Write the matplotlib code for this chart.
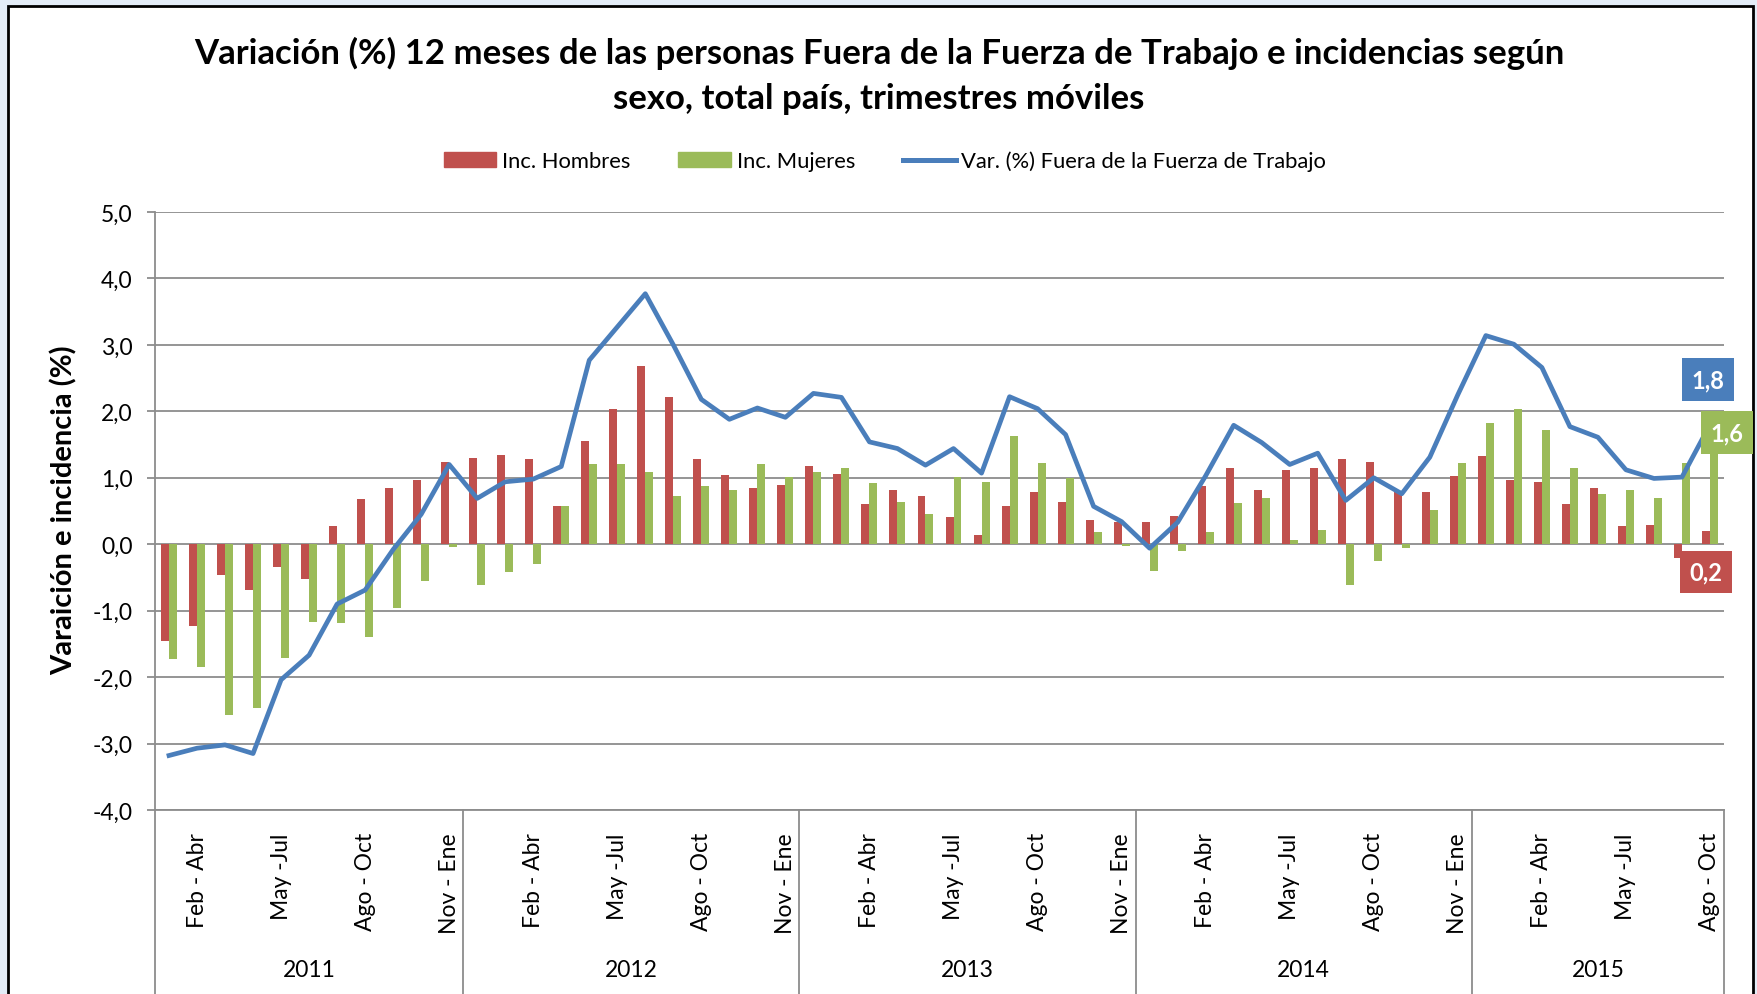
import numpy as np
import matplotlib.pyplot as plt
from matplotlib.patches import Rectangle, Patch
from matplotlib.lines import Line2D

plt.rcParams['font.family'] = ['Lato', 'DejaVu Sans']

# ---------------- datos ----------------
trimestres = ["Dic - Feb", "Ene - Mar", "Feb - Abr", "Mar - May", "Abr - Jun", "May -Jul",
              "Jun - Ago", "Jul - Sep", "Ago - Oct", "Sep - Nov", "Oct - Dic", "Nov - Ene"]
anios = ["2011", "2012", "2013", "2014", "2015"]
n_por_anio = [11, 12, 12, 12, 9]
periodos = trimestres[1:] + trimestres * 3 + trimestres[:9]
etiquetas_visibles = ["Feb - Abr", "May -Jul", "Ago - Oct", "Nov - Ene"]

inc_hombres = [-1.45, -1.23, -0.46, -0.69, -0.34, -0.52, 0.28, 0.68, 0.84, 0.97, 1.23,
               1.30, 1.35, 1.28, 0.57, 1.55, 2.03, 2.68, 2.21, 1.29, 1.04, 0.85, 0.89,
               1.18, 1.06, 0.61, 0.81, 0.73, 0.41, 0.14, 0.58, 0.79, 0.64, 0.37, 0.34,
               0.33, 0.42, 0.88, 1.15, 0.82, 1.12, 1.15, 1.28, 1.23, 0.80, 0.79, 1.03,
               1.33, 0.96, 0.93, 0.61, 0.85, 0.28, 0.29, -0.21, 0.20]
inc_mujeres = [-1.73, -1.85, -2.57, -2.46, -1.71, -1.17, -1.19, -1.39, -0.96, -0.55, -0.04,
               -0.61, -0.42, -0.30, 0.57, 1.21, 1.20, 1.09, 0.72, 0.87, 0.82, 1.20, 1.01,
               1.08, 1.14, 0.92, 0.63, 0.45, 1.01, 0.93, 1.63, 1.22, 1.00, 0.18, -0.03,
               -0.40, -0.10, 0.19, 0.62, 0.69, 0.07, 0.22, -0.61, -0.25, -0.06, 0.51, 1.22,
               1.82, 2.03, 1.72, 1.15, 0.76, 0.82, 0.69, 1.22, 1.60]
var_fft = [-3.18, -3.07, -3.02, -3.15, -2.04, -1.67, -0.90, -0.69, -0.08, 0.45, 1.20,
           0.69, 0.94, 0.98, 1.17, 2.77, 3.27, 3.77, 3.00, 2.18, 1.88, 2.05, 1.91,
           2.27, 2.21, 1.54, 1.44, 1.19, 1.44, 1.07, 2.22, 2.04, 1.65, 0.57, 0.34,
           -0.06, 0.33, 1.03, 1.79, 1.53, 1.20, 1.37, 0.66, 1.00, 0.76, 1.31, 2.25,
           3.14, 3.01, 2.66, 1.77, 1.61, 1.12, 0.99, 1.01, 1.80]

yticks = [-4, -3, -2, -1, 0, 1, 2, 3, 4, 5]
ytick_labels = ["-4,0", "-3,0", "-2,0", "-1,0", "0,0", "1,0", "2,0", "3,0", "4,0", "5,0"]
#----------------------------------------

ROJO = "#C0504D"
VERDE = "#9BBB59"
AZUL = "#4A7EBB"
GRIS = "#8C8C8C"

W, H = 1758, 995
fig = plt.figure(figsize=(W / 100, H / 100), dpi=100, facecolor="#e3ecf7")

# marco del grafico
fig.patches.append(Rectangle((8 / W, -0.02), (1753 - 8) / W, 1.02 - 7 / H,
                             transform=fig.transFigure, facecolor="white",
                             edgecolor="black", lw=2, zorder=-10))

ax = fig.add_axes([155 / W, 1 - 811 / H, (1724 - 155) / W, (811 - 213) / H])
ax.set_facecolor("white")

x = np.arange(len(periodos))
w = 0.285
ax.bar(x - w / 2, inc_hombres, w, color=ROJO, zorder=2)
ax.bar(x + w / 2, inc_mujeres, w, color=VERDE, zorder=2)
ax.plot(x, var_fft, color=AZUL, lw=3.4, zorder=3, solid_joinstyle="round")

ax.set_xlim(-0.5, len(periodos) - 0.5)
ax.set_ylim(-4, 5)
ax.set_yticks(yticks)
ax.set_yticklabels(ytick_labels, fontsize=16.5)
ax.yaxis.grid(True, color=GRIS, lw=1.3)
ax.set_axisbelow(True)
for s in ["top", "right"]:
    ax.spines[s].set_visible(False)
for s in ["left", "bottom"]:
    ax.spines[s].set_color(GRIS)
    ax.spines[s].set_linewidth(1.3)
ax.tick_params(axis="y", length=6, width=1.3, color=GRIS, pad=10)

pos = [i for i, p in enumerate(periodos) if p in etiquetas_visibles]
ax.set_xticks(pos)
ax.set_xticklabels([periodos[i] for i in pos], rotation=90, fontsize=16.5)
ax.tick_params(axis="x", length=0, pad=16)

# separadores y etiquetas de anio
trans = ax.get_xaxis_transform()
limites = np.concatenate([[0], np.cumsum(n_por_anio)])
for b in limites:
    ax.plot([b - 0.5, b - 0.5], [0, -0.35], transform=trans, color=GRIS, lw=1.3,
            clip_on=False)
for anio, a, b in zip(anios, limites[:-1], limites[1:]):
    ax.text((a + b - 1) / 2, -0.266, anio, transform=trans, ha="center", va="center",
            fontsize=16.5)

# etiquetas del ultimo valor
def etiqueta(valor, color, dx, dy):
    ax.annotate(("%.1f" % valor).replace(".", ","), xy=(x[-1], valor), xytext=(dx, dy),
                textcoords="offset pixels", ha="center", va="center", color="white",
                fontweight="bold", fontsize=17, annotation_clip=False,
                bbox=dict(boxstyle="square,pad=0.42", fc=color, ec="none"))

etiqueta(var_fft[-1], AZUL, -2, 45)
etiqueta(inc_mujeres[-1], VERDE, 17, 5)
etiqueta(inc_hombres[-1], ROJO, -4, -41)

handles = [Patch(color=ROJO), Patch(color=VERDE), Line2D([], [], color=AZUL, lw=3.6)]
fig.legend(handles, ["Inc. Hombres", "Inc. Mujeres", "Var. (%) Fuera de la Fuerza de Trabajo"],
           loc="center", bbox_to_anchor=(885 / W, 1 - 162 / H), ncol=3, frameon=False,
           fontsize=15.8, handlelength=2.4, handleheight=0.65, handletextpad=0.25,
           columnspacing=2.2)

fig.text(0.5, 1 - 76 / H,
         "Variación (%) 12 meses de las personas Fuera de la Fuerza de Trabajo e incidencias según\n"
         "sexo, total país, trimestres móviles",
         ha="center", va="center", fontsize=25, fontweight="bold", linespacing=1.5)
fig.text(64 / W, 1 - 510 / H, "Varaición e incidencia (%)", rotation=90, ha="center",
         va="center", fontsize=21, fontweight="bold")

plt.savefig("out.png", dpi=100, facecolor=fig.get_facecolor())
